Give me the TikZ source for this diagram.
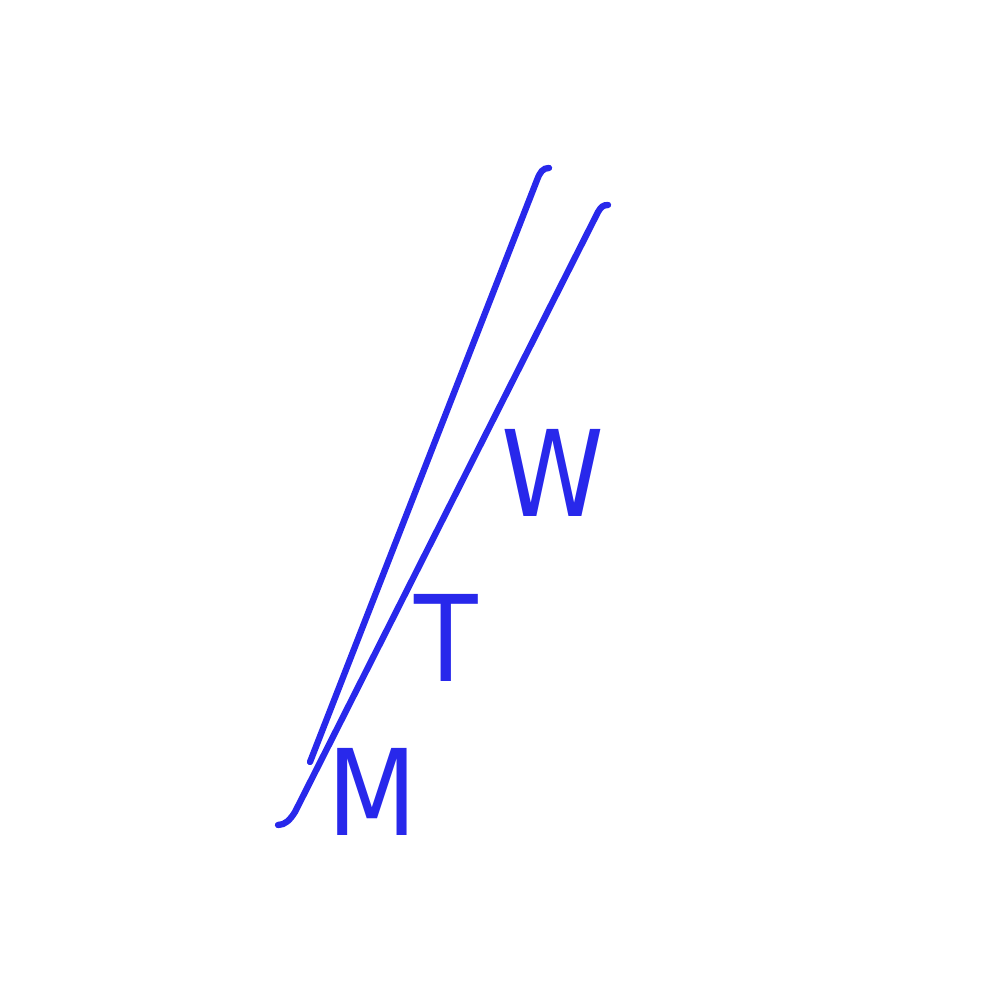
\documentclass[tikz,border=0pt]{standalone}
\usepackage{fontspec}
\setsansfont[FakeStretch=0.87]{DejaVu Sans}
\usepackage{xcolor}
\definecolor{ink}{RGB}{40,40,235}

\begin{document}
\begin{tikzpicture}[
  stroke/.style={draw=ink, line width=1.8pt, line cap=round},
  letter/.style={text=ink, inner sep=0pt, font=\sffamily\fontsize{34}{40}\selectfont}
]
\useasboundingbox (0,0) rectangle (10,10);

% the two strokes
\coordinate (aBot) at (3.10,2.38);
\coordinate (aTop) at (5.37,8.20);
\coordinate (bBot) at (2.95,1.88);
\coordinate (bTop) at (5.98,7.88);

\draw [stroke] (aBot) -- (aTop) .. controls (5.40,8.28) and (5.43,8.32) .. (5.49,8.32);
\draw [stroke] (2.78,1.75) .. controls (2.85,1.75) and (2.90,1.80) .. (bBot)
  -- (bTop) .. controls (6.01,7.93) and (6.03,7.95) .. (6.08,7.95);

% letters
\node (m) [letter] at (3.72,2.08) {M};
\node (t) [letter] at (4.46,3.62) {T};
\node (w) [letter] at (5.53,5.27) {W};

\end{tikzpicture}
\end{document}
